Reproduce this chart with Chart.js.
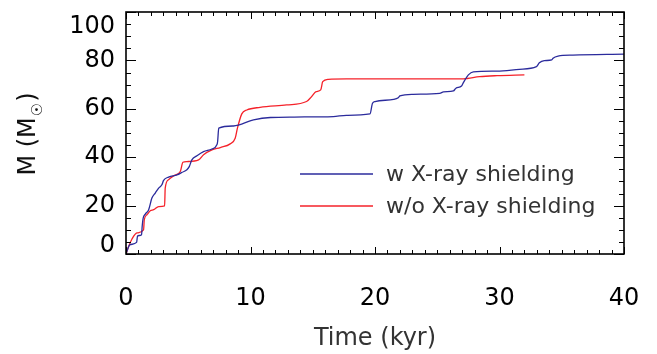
<!DOCTYPE html>
<html>
<head>
<meta charset="utf-8">
<script src="https://cdn.jsdelivr.net/npm/chart.js@4/dist/chart.umd.min.js"></script>
<style>
  html, body { margin: 0; padding: 0; background: #fff; }
  #wrap { width: 657px; height: 354px; }
</style>
</head>
<body>
<div id="wrap"><canvas id="massChart" width="657" height="354"></canvas></div>
<script>
// Accreted mass vs time, with and without X-ray shielding
const shieldTime = [0, 0.3, 0.85, 0.93, 1.25, 1.3, 1.38, 1.55, 1.82, 2.08, 2.35, 2.62, 2.88, 3.02, 3.42, 4.09, 4.49, 4.89, 5.08, 5.29, 5.7, 6.23, 6.9, 7.3, 7.36, 7.45, 8.63, 10.24, 11.6, 13.5, 16.65, 17.7, 19.6, 19.8, 20.0, 21.5, 21.87, 22.0, 23.07, 25.2, 25.5, 26.3, 26.5, 26.95, 27.1, 27.5, 27.9, 29.8, 31.6, 32.97, 33.2, 33.6, 34.2, 34.3, 34.7, 35.9, 40];
const shieldMass = [0, 3.8, 4.8, 7.5, 8, 11.4, 14.8, 16.5, 18.3, 23.1, 25.2, 27.2, 28.6, 30.4, 31.8, 32.7, 33.7, 34.8, 36.1, 38.9, 40.6, 42.3, 43.4, 45.1, 46.5, 52, 52.9, 55.4, 56.4, 56.6, 56.8, 57.3, 57.9, 62.3, 63, 63.9, 64.6, 65.3, 66, 66.4, 67, 67.4, 68.5, 69.4, 70.8, 74, 75.3, 75.6, 76.3, 77.4, 79, 79.9, 80.2, 80.9, 81.8, 82.2, 82.6];

const noShieldTime = [0, 0.21, 0.48, 0.88, 1.41, 1.47, 1.68, 1.95, 2.22, 2.62, 3.1, 3.15, 3.42, 3.82, 4.36, 4.57, 4.89, 5.83, 6.23, 6.9, 7.57, 8.37, 8.77, 8.95, 9.3, 9.7, 10.77, 12.9, 14.5, 14.9, 15.27, 15.64, 15.8, 16.25, 17.7, 27.1, 28.4, 29.8, 32.0];
const noShieldMass = [0, 3.1, 6.2, 8.7, 10, 14.2, 16.2, 17.9, 18.3, 19.6, 19.9, 27.2, 30.7, 32.3, 34.1, 37.9, 38.2, 38.9, 41, 43, 44, 45.5, 47.8, 52, 57.9, 59.5, 60.6, 61.6, 63, 65, 67.1, 67.8, 71.2, 72.2, 72.4, 72.4, 73.3, 73.7, 74];

const seriesLabels = ["w X-ray shielding", "w/o X-ray shielding"];
const xTicks = [0, 10, 20, 30, 40];
const yTicks = [0, 20, 40, 60, 80, 100];

const BLUE = "#2b2b9c";
const RED = "#f5222a";
const FONT = "DejaVu Sans";

Chart.defaults.font.family = FONT;
Chart.defaults.color = "#000";

function toPoints(xs, ys) {
  return xs.map((x, i) => ({ x: x, y: ys[i] }));
}

// inward ticks on all four sides plus the box
const frameTicks = {
  id: "frameTicks",
  afterDatasetsDraw(chart) {
    const { ctx, chartArea: a, scales: { x, y } } = chart;
    ctx.save();
    ctx.strokeStyle = "#000";
    ctx.lineWidth = 1;
    ctx.beginPath();
    for (let v = 0; v <= 40; v++) {
      const px = Math.round(x.getPixelForValue(v)) + 0.5;
      const len = v % 10 === 0 ? 7 : 4;
      ctx.moveTo(px, a.bottom); ctx.lineTo(px, a.bottom - len);
      ctx.moveTo(px, a.top); ctx.lineTo(px, a.top + len);
    }
    for (let v = 0; v <= 100; v += 5) {
      const py = Math.round(y.getPixelForValue(v)) + 0.5;
      const len = v % 20 === 0 ? 10 : 5;
      ctx.moveTo(a.left, py); ctx.lineTo(a.left + len, py);
      ctx.moveTo(a.right, py); ctx.lineTo(a.right - len, py);
    }
    ctx.stroke();
    ctx.lineWidth = 1.6;
    ctx.strokeRect(a.left, a.top, a.right - a.left, a.bottom - a.top);
    ctx.restore();
  }
};

// end labels sit inside the axis range, legend and y title with subscript sun symbol
const extraText = {
  id: "extraText",
  afterDraw(chart) {
    const { ctx, scales: { y } } = chart;
    ctx.save();
    ctx.fillStyle = "#000";
    ctx.font = "24px '" + FONT + "'";
    ctx.textAlign = "right";
    ctx.textBaseline = "middle";
    ctx.fillText(String(yTicks[yTicks.length - 1]), 115, y.getPixelForValue(100) + 15);
    ctx.fillText(String(yTicks[0]), 115, y.getPixelForValue(0) - 8);

    // legend
    const rows = [174, 206];
    chart.data.datasets.forEach((ds, i) => {
      ctx.strokeStyle = ds.borderColor;
      ctx.lineWidth = 1.3;
      ctx.beginPath();
      ctx.moveTo(300, rows[i]);
      ctx.lineTo(373, rows[i]);
      ctx.stroke();
      ctx.fillStyle = "#333";
      ctx.font = "22px '" + FONT + "'";
      ctx.textAlign = "left";
      ctx.textBaseline = "middle";
      ctx.fillText(ds.label, 386, rows[i] + 1);
    });

    // y title: M (M☉)
    ctx.translate(26, 134);
    ctx.rotate(-Math.PI / 2);
    ctx.fillStyle = "#111";
    ctx.textBaseline = "alphabetic";
    ctx.textAlign = "left";
    const big = "24px '" + FONT + "'";
    const small = "15px '" + FONT + "'";
    ctx.font = big;
    const w1 = ctx.measureText("M (M").width;
    const w3 = ctx.measureText(")").width;
    ctx.font = small;
    const w2 = ctx.measureText("\u2609").width;
    let sx = -(w1 + w2 + w3 + 2) / 2;
    ctx.font = big;
    ctx.fillText("M (M", sx, 9);
    sx += w1 + 1;
    ctx.font = small;
    ctx.fillText("\u2609", sx, 16);
    sx += w2 + 1;
    ctx.font = big;
    ctx.fillText(")", sx, 9);
    ctx.restore();
  }
};

new Chart(document.getElementById("massChart"), {
  type: "line",
  data: {
    datasets: [
      {
        label: seriesLabels[0],
        data: toPoints(shieldTime, shieldMass),
        borderColor: BLUE,
        borderWidth: 1.3,
        pointRadius: 0,
        cubicInterpolationMode: "monotone",
        fill: false
      },
      {
        label: seriesLabels[1],
        data: toPoints(noShieldTime, noShieldMass),
        borderColor: RED,
        borderWidth: 1.3,
        pointRadius: 0,
        cubicInterpolationMode: "monotone",
        fill: false
      }
    ]
  },
  options: {
    responsive: false,
    animation: false,
    layout: { padding: { left: 0, top: 12, right: 33, bottom: 0 } },
    plugins: { legend: { display: false }, tooltip: { enabled: false } },
    scales: {
      x: {
        type: "linear",
        min: 0,
        max: 40,
        afterBuildTicks: s => { s.ticks = xTicks.map(v => ({ value: v })); },
        afterFit: s => { s.height = 100; s.paddingLeft = 0; s.paddingRight = 0; },
        grid: { display: false, drawTicks: false },
        border: { display: false },
        ticks: { autoSkip: false, maxRotation: 0, padding: 30, font: { size: 24 }, color: "#000" },
        title: { display: true, text: "Time (kyr)", color: "#333", font: { size: 24 }, padding: { top: 0, bottom: 1 } }
      },
      y: {
        min: 0,
        max: 100,
        afterBuildTicks: s => { s.ticks = yTicks.map(v => ({ value: v })); },
        afterFit: s => { s.width = 126; s.paddingTop = 0; s.paddingBottom = 0; },
        grid: { display: false, drawTicks: false },
        border: { display: false },
        ticks: {
          autoSkip: false,
          padding: 11,
          font: { size: 24 },
          color: "#000",
          callback: v => (v === 0 || v === 100) ? "" : String(v)
        }
      }
    }
  },
  plugins: [frameTicks, extraText]
});
</script>
</body>
</html>
